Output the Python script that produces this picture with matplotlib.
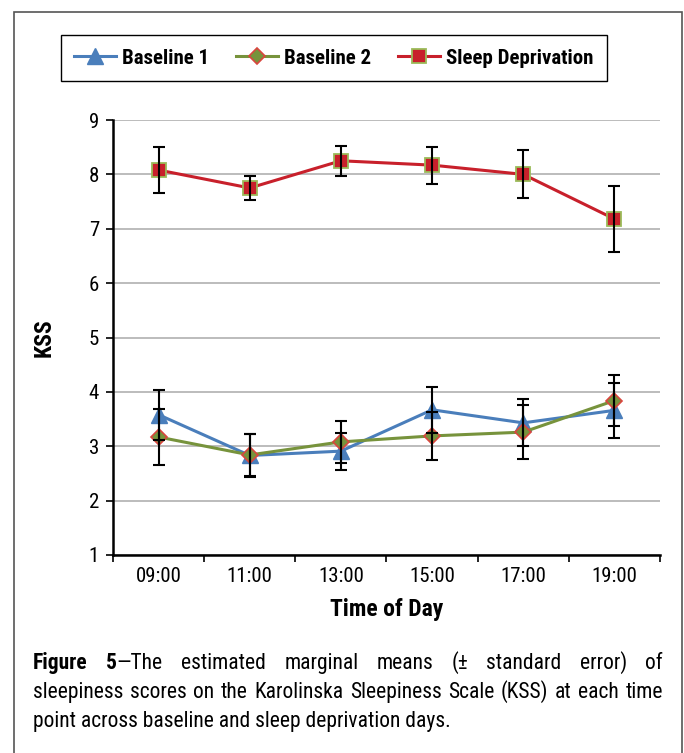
import numpy as np
import matplotlib
matplotlib.use('Agg')
import matplotlib.pyplot as plt
from matplotlib import font_manager
from matplotlib.patches import Rectangle

# pick a narrow face if one is around, the original uses Arial Narrow
fonts = font_manager.fontManager.ttflist
names = {f.name for f in fonts}
STRETCH = 'normal'
NARROW = None
for cand in ['Liberation Sans Narrow', 'Arial Narrow', 'Roboto Condensed',
             'Open Sans Condensed', 'Noto Sans Condensed']:
    if cand in names:
        NARROW = cand
        break
if NARROW is None:
    if any(f.name == 'DejaVu Sans' and 'condensed' in str(f.stretch) for f in fonts):
        NARROW, STRETCH = 'DejaVu Sans', 'condensed'
    else:
        NARROW = 'Liberation Sans'
plt.rcParams['font.family'] = [NARROW, 'DejaVu Sans']
plt.rcParams['font.stretch'] = STRETCH

# data
times = ['09:00', '11:00', '13:00', '15:00', '17:00', '19:00']
b1 = [3.58, 2.83, 2.91, 3.67, 3.43, 3.66]
b1_se = [0.46, 0.40, 0.34, 0.42, 0.43, 0.50]
b2 = [3.17, 2.84, 3.08, 3.19, 3.26, 3.84]
b2_se = [0.51, 0.38, 0.39, 0.44, 0.49, 0.47]
sd = [8.08, 7.75, 8.25, 8.17, 8.00, 7.18]
sd_se = [0.42, 0.22, 0.28, 0.34, 0.44, 0.60]

W, H = 684, 753
fig = plt.figure(figsize=(W / 100, H / 100), dpi=100)
renderer = fig.canvas.get_renderer()


def width_of(s, size, weight='normal'):
    t = fig.text(0, 0, s, fontsize=size, fontweight=weight)
    w = t.get_window_extent(renderer).width
    t.remove()
    return w


# scale font sizes so the text takes the same room as in the original
k = min(1.0, 87 / width_of('Baseline 1', 15, 'bold'))
tick_size = 15 * k
lab_size = 17 * k
leg_size = 15 * k
cap_size = min(17, 16 * 618 / width_of(
    'sleepiness scores on the Karolinska Sleepiness Scale (KSS) at each time', 16))

fig.patches.append(Rectangle((14 / W, -0.1), (682 - 14) / W, 1.1 - 12 / H,
                             transform=fig.transFigure, fill=False,
                             edgecolor='#555555', lw=1.2))

ax = fig.add_axes([113 / W, 1 - 555 / H, (660 - 113) / W, (555 - 120) / H])
x = np.arange(len(times))

l1, = ax.plot(x, b1, color='#4A7EBB', lw=2.2, marker='^', ms=11,
              mfc='#4A7EBB', mec='#4A7EBB', zorder=4, label='Baseline 1')
l2, = ax.plot(x, b2, color='#77933C', lw=2.2, marker='D', ms=8.5,
              mfc='#77933C', mec='#D9463E', mew=1.2, zorder=5, label='Baseline 2')
l3, = ax.plot(x, sd, color='#C8202B', lw=2.2, marker='s', ms=9.5,
              mfc='#C8202B', mec='#9BBB59', mew=1.3, zorder=6, label='Sleep Deprivation')
for vals, se in [(b1, b1_se), (b2, b2_se), (sd, sd_se)]:
    ax.errorbar(x, vals, yerr=se, fmt='none', ecolor='black', elinewidth=1.5,
                capsize=4, capthick=1.5, zorder=7)

ax.set_xlim(-0.5, 5.5)
ax.set_ylim(1, 9)
ax.set_yticks(range(1, 10))
ax.set_xticks(x)
ax.set_xticklabels(times)
ax.set_xticks(np.arange(-0.5, 6, 1), minor=True)
ax.tick_params(axis='x', which='major', length=0, pad=9, labelsize=tick_size)
ax.tick_params(axis='x', which='minor', length=5, width=1.2, direction='out')
ax.tick_params(axis='y', length=5, width=1.2, direction='out', pad=5, labelsize=tick_size)
ax.grid(axis='y', color='#B0B0B0', lw=1.2)
ax.set_axisbelow(True)
for s in ['top', 'right']:
    ax.spines[s].set_visible(False)
for s in ['left', 'bottom']:
    ax.spines[s].set_linewidth(1.8)
    ax.spines[s].set_zorder(8)

ax.set_xlabel('Time of Day', fontsize=lab_size, fontweight='bold', labelpad=8)
ax.set_ylabel('KSS', fontsize=lab_size, fontweight='bold', labelpad=24)

leg = fig.legend(handles=[l1, l2, l3], loc='center', bbox_to_anchor=(334 / W, 1 - 58 / H),
                 ncol=3, prop={'weight': 'bold', 'size': leg_size},
                 frameon=True, fancybox=False, edgecolor='black', framealpha=1,
                 handlelength=2.0, handletextpad=0.3, columnspacing=1.3,
                 borderpad=0.65, numpoints=1)
leg.get_frame().set_linewidth(1.0)

# caption, first two lines justified
x0, x1 = 33, 663


def justify(tokens, ybase):
    placed = []
    total = 0
    for tok in tokens:
        segs = []
        w = 0
        for s, wt in tok:
            t = fig.text(0, 1 - ybase / H, s, fontsize=cap_size, fontweight=wt,
                         ha='left', va='baseline')
            sw = t.get_window_extent(renderer).width
            segs.append((t, sw))
            w += sw
        placed.append((segs, w))
        total += w
    gap = (x1 - x0 - total) / (len(tokens) - 1)
    xx = x0
    for segs, w in placed:
        xs = xx
        for t, sw in segs:
            t.set_x(xs / W)
            xs += sw
        xx += w + gap


line1 = [[('Figure', 'bold')], [('5', 'bold'), ('—The', 'normal')]] + \
    [[(w, 'normal')] for w in 'estimated marginal means (± standard error) of'.split()]
line2 = [[(w, 'normal')] for w in
         'sleepiness scores on the Karolinska Sleepiness Scale (KSS) at each time'.split()]
justify(line1, 669)
justify(line2, 698)
fig.text(x0 / W, 1 - 727 / H, 'point across baseline and sleep deprivation days.',
         fontsize=cap_size, ha='left', va='baseline')

fig.savefig('out.png', dpi=100)
